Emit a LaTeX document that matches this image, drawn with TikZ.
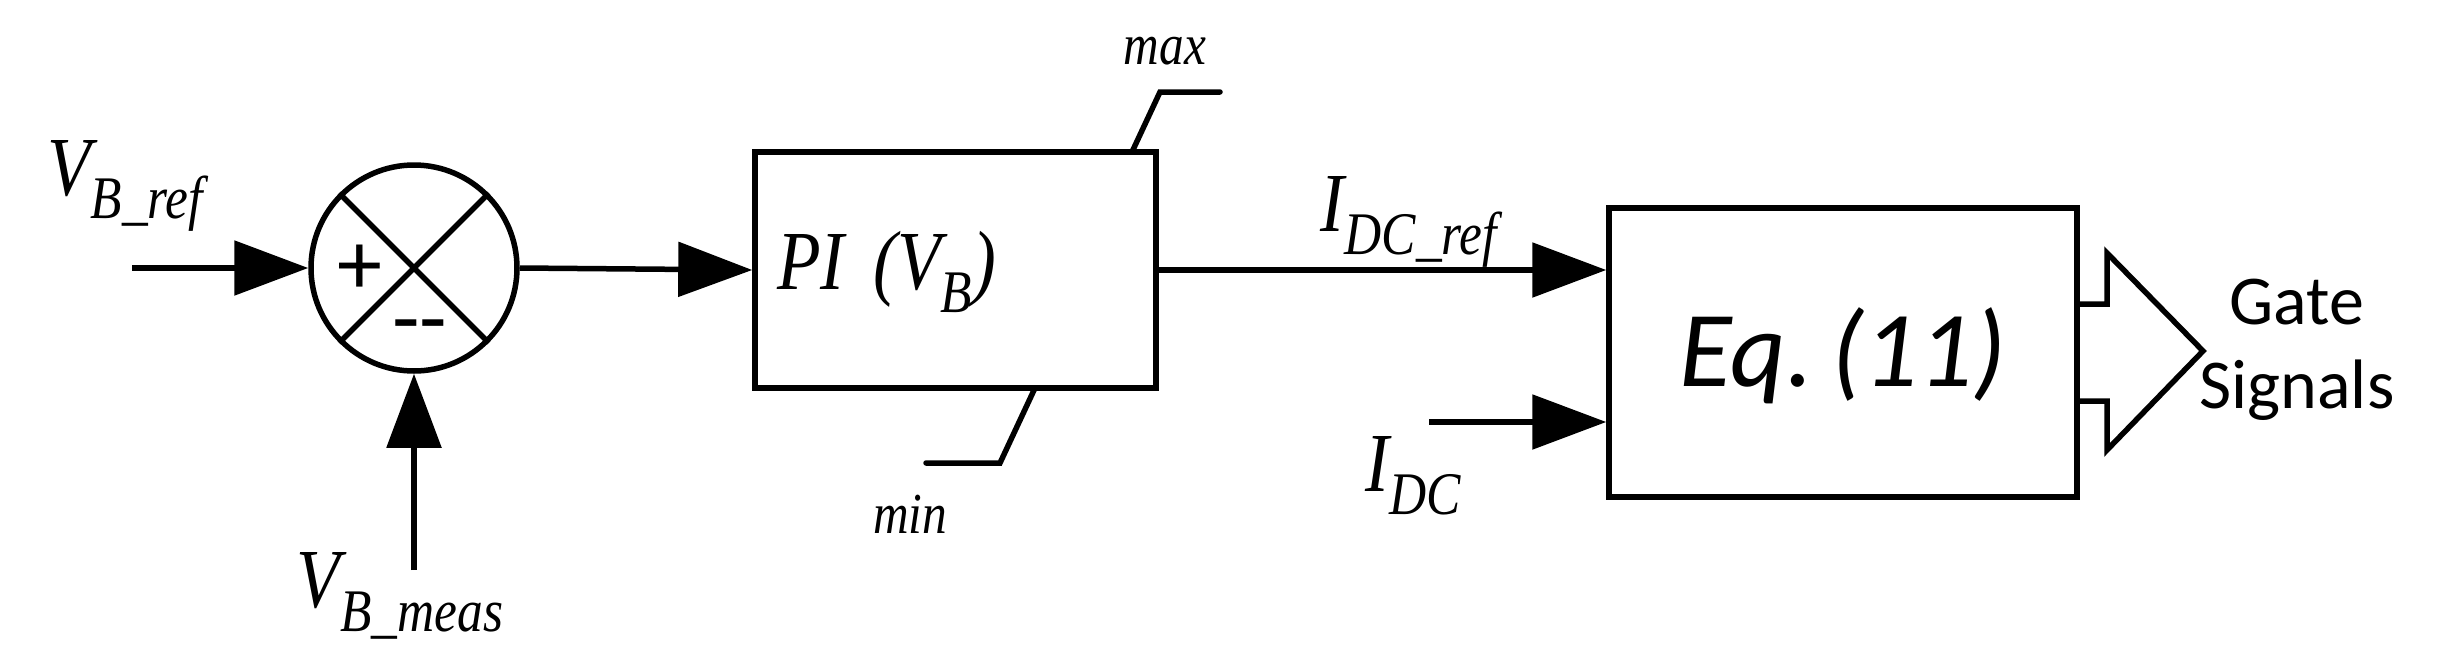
\documentclass[tikz,border=0pt]{standalone}
\usepackage{fontspec}
\setmainfont{Liberation Serif}
\newfontfamily\carl{Carlito}
\usetikzlibrary{arrows.meta}
\newcommand{\mysb}[1]{\raisebox{-0.28em}{\scalebox{0.72}{#1}}}
\begin{document}
\begin{tikzpicture}[x=1pt,y=-1pt,line width=5.5pt,
  arr/.style={-{Triangle[length=74pt,width=54pt]}},
  lab/.style={font=\fontsize{84}{84}\selectfont\itshape,inner sep=0pt,xscale=0.85},
  sm/.style={font=\fontsize{58}{58}\selectfont\itshape,inner sep=0pt,xscale=0.85}]
\useasboundingbox (0,0) rectangle (2437,672);
\node[circle,draw,minimum size=206pt,inner sep=0pt] (sum) at (414,268) {};
\draw (sum.north west) -- (sum.south east) (sum.north east) -- (sum.south west);
\node[font=\fontsize{90}{90}\selectfont\carl,inner sep=0pt] at (360,270) {+};
\node[font=\fontsize{90}{90}\selectfont\carl,inner sep=0pt] at (420,334) {--};
\node[draw,minimum width=401pt,minimum height=236pt,inner sep=0pt] (pi) at (955.5,270) {};
\node[lab,anchor=west] at (775,272) {PI\hspace{0.4em}(V\mysb{B})};
\node[draw,minimum width=468pt,minimum height=289pt,inner sep=0pt] (eq) at (1843,352.5) {};
\node[font=\fontsize{108}{108}\selectfont\carl\itshape] at (1843,356) {Eq.\,(11)};
\coordinate (a0) at (132,268);
\coordinate (m0) at (414,570);
\draw[arr] (a0) -- (sum.west);
\draw[arr] (m0) -- (sum.south);
\draw[arr] (sum.east) -- (pi.west);
\draw[arr] (pi.east) -- (pi.east -| eq.west);
\coordinate (i0) at (1429,422);
\draw[arr] (i0) -- (i0 -| eq.west);
\node[lab] at (125,186) {V\mysb{B\_ref}};
\node[lab] at (400,596) {V\mysb{B\_meas}};
\node[lab] at (1409,222) {I\mysb{DC\_ref}};
\node[lab] at (1413,476) {I\mysb{DC}};
% limits
\draw[line cap=round] (1132,152) -- (1160,92) -- (1220,92);
\node[sm] at (1165,51) {max};
\draw[line cap=round] (1035,388) -- (1000,463) -- (926,463);
\node[sm] at (910,514) {min};
% gate chevron
\draw[line join=miter] (eq.east |- 0,304) -- (2107,304) -- (2107,253) -- (2203,351) -- (2107,450) -- (2107,401) -- (eq.east |- 0,401);
\node[font=\fontsize{70}{70}\selectfont\carl,align=center,inner sep=0pt] at (2297,350) {Gate\\[14pt]Signals};
\end{tikzpicture}
\end{document}
